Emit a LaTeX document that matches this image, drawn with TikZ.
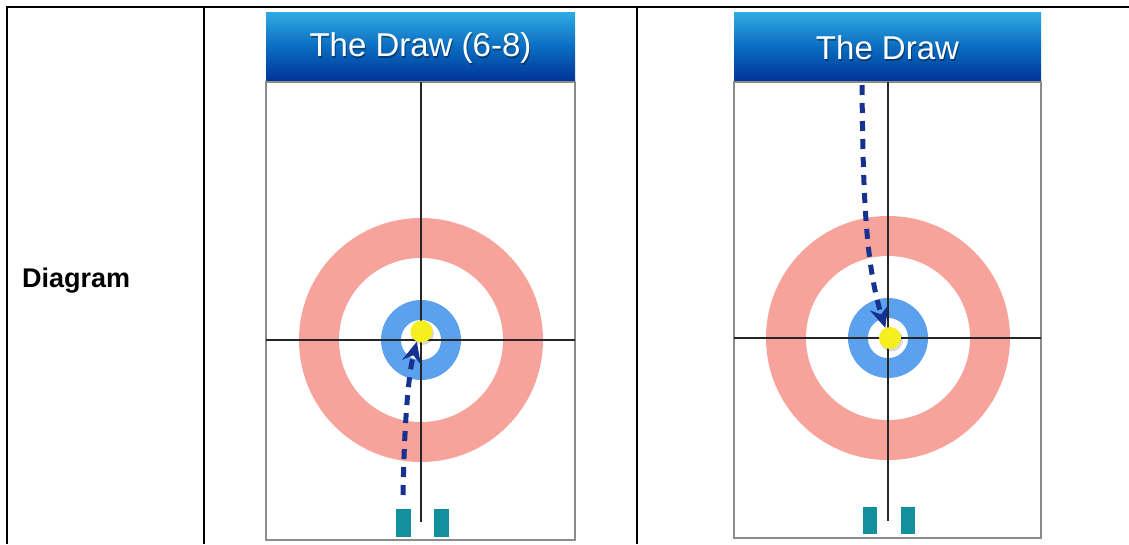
\documentclass[tikz,border=0pt]{standalone}
\usepackage{fontspec}
\setmainfont{Liberation Sans}
\usetikzlibrary{arrows.meta}
\definecolor{ringred}{HTML}{F7A39B}
\definecolor{ringblue}{HTML}{5BA1EE}
\definecolor{ballyel}{HTML}{F6EE1E}
\definecolor{stoneteal}{HTML}{13909E}
\definecolor{shotblue}{HTML}{16318F}
\definecolor{hdtop}{HTML}{30AAE2}
\definecolor{hdmid}{HTML}{0A6CC0}
\definecolor{hdbot}{HTML}{003396}
\definecolor{fieldgray}{HTML}{8C8C8C}
\begin{document}
\begin{tikzpicture}[x=1pt,y=-1pt,
  tbl/.style={line width=2.8pt,black},
  field/.style={draw=fieldgray,line width=1.4pt},
  cline/.style={line width=1.2pt,black!85},
  hdr/.style={top color=hdtop,bottom color=hdbot,middle color=hdmid},
  hdtext/.style={text=white,font=\fontsize{33}{36}\selectfont,inner sep=0pt},
  hdshadow/.style={text=black,opacity=0.35,font=\fontsize{33}{36}\selectfont,inner sep=0pt},
  ball/.style={circle,fill=ballyel,minimum size=22pt,inner sep=0pt},
  stone/.style={fill=stoneteal},
  shot/.style={shotblue,line width=5pt,dash pattern=on 10pt off 8pt,-{Stealth[length=21pt,width=19pt,inset=7pt]}},
  lbl/.style={font=\bfseries\fontsize{27}{30}\selectfont,inner sep=0pt}]
\useasboundingbox (0,0) rectangle (1129,544);
% table
\draw[tbl] (7,7) -- (1129,7);
\draw[tbl] (7,5.6) -- (7,544);
\draw[tbl] (204,7) -- (204,544);
\draw[tbl] (637,7) -- (637,544);
\node[lbl,anchor=base west] (label) at (22,287) {Diagram};
% ---------- left panel ----------
\shade[hdr] (266,12) rectangle (575,82);
\node[hdshadow] at (421.5,49.5) {The Draw (6-8)};
\node[hdtext] (title1) at (420.5,48) {The Draw (6-8)};
\draw[field] (266,82) rectangle (575,540);
\fill[ringred] (421,340) circle (122);
\fill[white] (421,340) circle (82);
\fill[ringblue] (421,340) circle (40);
\fill[white] (421,340) circle (20);
\draw[cline] (421,82) -- (421,522);
\draw[cline] (266,340) -- (575,340);
\fill[black,opacity=0.15] (422.5,333.5) circle (11.5);
\node[ball] (ball1) at (421.5,331.5) {};
\coordinate (start1) at (403,495);
\draw[shot] (start1) .. controls (404,440) and (407,380) .. (ball1.245);
\fill[stone] (396,509) rectangle (411,537);
\fill[stone] (434,509) rectangle (449,537);
% ---------- right panel ----------
\shade[hdr] (734,12) rectangle (1041,82);
\node[hdshadow] at (888.5,49.5) {The Draw};
\node[hdtext] (title2) at (887.5,48) {The Draw};
\draw[field] (734,82) rectangle (1041,538);
\fill[ringred] (888,338) circle (122);
\fill[white] (888,338) circle (82);
\fill[ringblue] (888,338) circle (40);
\fill[white] (888,338) circle (20);
\draw[cline] (888,82) -- (888,521);
\draw[cline] (734,338) -- (1041,338);
\fill[black,opacity=0.15] (891.5,340) circle (11.5);
\node[ball] (ball2) at (890,338) {};
\coordinate (start2) at (862,85);
\draw[shot] (start2) .. controls (863,200) and (866,265) .. (ball2.115);
\fill[stone] (863,507) rectangle (877,534);
\fill[stone] (901,507) rectangle (915,534);
\end{tikzpicture}
\end{document}
